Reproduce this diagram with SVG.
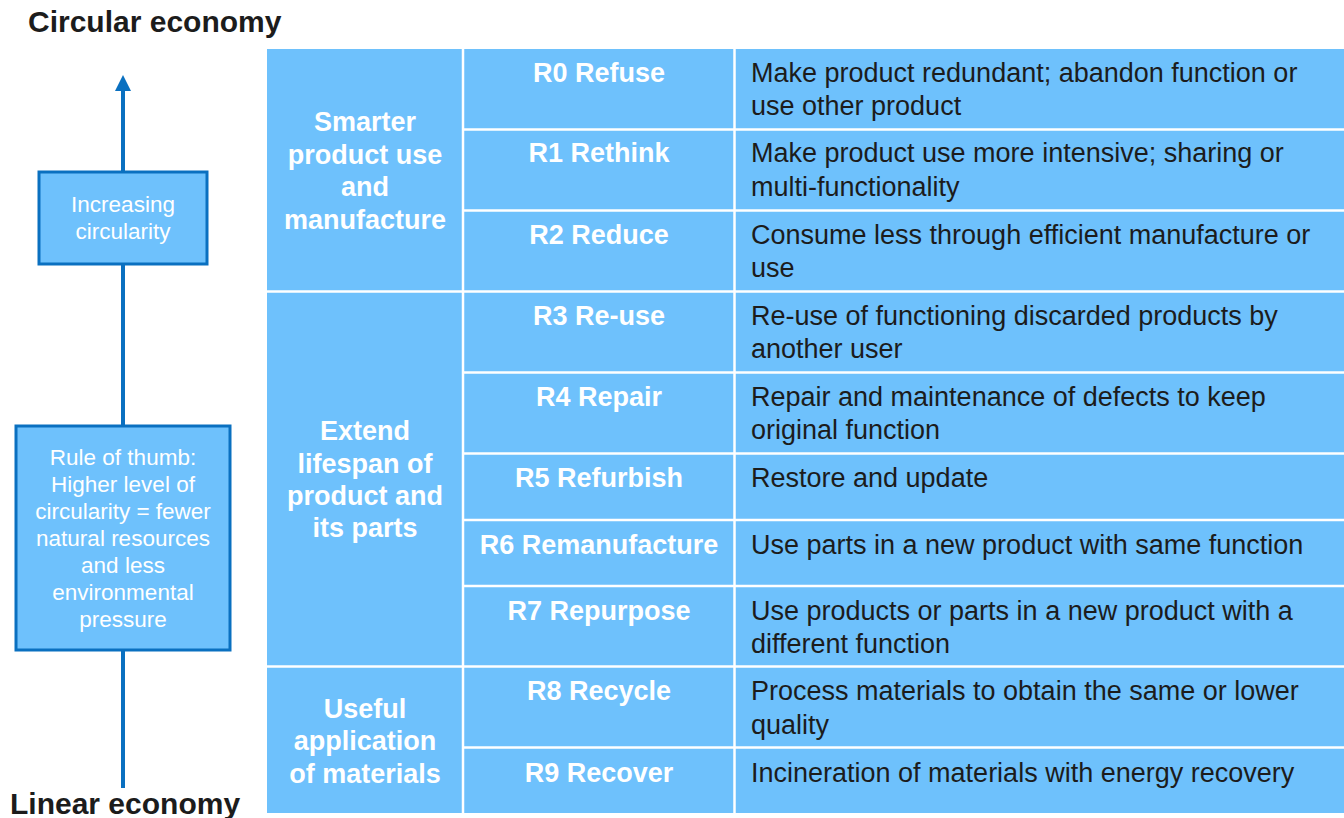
<svg xmlns="http://www.w3.org/2000/svg" width="1344" height="818" viewBox="0 0 1344 818">
<defs>
<style>
.title{font-family:"Liberation Sans",Arial,sans-serif;font-weight:bold;font-size:30px;fill:#1c1c1c}
.cell{fill:#6EC1FC}
.grid{stroke:#FFFFFF;stroke-width:2.5;fill:none}
.grp{font-family:"Liberation Sans",Arial,sans-serif;font-weight:bold;font-size:27px;fill:#FFFFFF;text-anchor:middle}
.rl{font-family:"Liberation Sans",Arial,sans-serif;font-weight:bold;font-size:27px;fill:#FFFFFF;text-anchor:middle}
.desc{font-family:"Liberation Sans",Arial,sans-serif;font-size:27px;fill:#1c1c1c}
.box{fill:#6EC1FC;stroke:#0A70C0;stroke-width:3}
.boxt{font-family:"Liberation Sans",Arial,sans-serif;font-size:22.5px;fill:#FFFFFF;text-anchor:middle}
.axis{stroke:#0A70C0;stroke-width:4;fill:none}
</style>
<marker id="ah" markerWidth="4" markerHeight="4" refX="2" refY="2" orient="auto" markerUnits="strokeWidth" viewBox="0 0 4 4">
<path d="M0,0 L4,2 L0,4 Z" fill="#0A70C0"/>
</marker>
</defs>
<rect width="1344" height="818" fill="#FFFFFF"/>

<text class="title" x="28" y="32">Circular economy</text>
<text class="title" x="10" y="814">Linear economy</text>

<g id="connectors">
<line class="axis" x1="123" y1="788" x2="123" y2="83" marker-end="url(#ah)"/>
</g>

<g id="node-increasing">
<rect class="box" x="39" y="172" width="168" height="92"/>
<text class="boxt" x="123" y="212">Increasing</text>
<text class="boxt" x="123" y="239">circularity</text>
</g>

<g id="node-rule">
<rect class="box" x="16" y="426" width="214" height="224"/>
<text class="boxt" x="123" y="465">Rule of thumb:</text>
<text class="boxt" x="123" y="492">Higher level of</text>
<text class="boxt" x="123" y="519">circularity = fewer</text>
<text class="boxt" x="123" y="546">natural resources</text>
<text class="boxt" x="123" y="573">and less</text>
<text class="boxt" x="123" y="600">environmental</text>
<text class="boxt" x="123" y="627">pressure</text>
</g>

<g id="table">
<rect class="cell" x="267" y="49" width="1090" height="764"/>
<g class="grid">
<line x1="463" y1="49" x2="463" y2="813"/>
<line x1="734.5" y1="49" x2="734.5" y2="813"/>
<line x1="267" y1="291.5" x2="1344" y2="291.5"/>
<line x1="267" y1="666.5" x2="1344" y2="666.5"/>
<line x1="463" y1="129.5" x2="1344" y2="129.5"/>
<line x1="463" y1="210.5" x2="1344" y2="210.5"/>
<line x1="463" y1="372.5" x2="1344" y2="372.5"/>
<line x1="463" y1="453.5" x2="1344" y2="453.5"/>
<line x1="463" y1="520" x2="1344" y2="520"/>
<line x1="463" y1="586" x2="1344" y2="586"/>
<line x1="463" y1="747.5" x2="1344" y2="747.5"/>
</g>
</g>

<g id="group-smarter">
<text class="grp" x="365" y="131">Smarter</text>
<text class="grp" x="365" y="164">product use</text>
<text class="grp" x="365" y="196">and</text>
<text class="grp" x="365" y="228.5">manufacture</text>
</g>
<g id="group-extend">
<text class="grp" x="365" y="440">Extend</text>
<text class="grp" x="365" y="472.5">lifespan of</text>
<text class="grp" x="365" y="505">product and</text>
<text class="grp" x="365" y="537">its parts</text>
</g>
<g id="group-useful">
<text class="grp" x="365" y="717.5">Useful</text>
<text class="grp" x="365" y="750">application</text>
<text class="grp" x="365" y="782.5">of materials</text>
</g>

<g id="row-r0">
<text class="rl" x="599" y="82">R0 Refuse</text>
<text class="desc" x="751" y="82">Make product redundant; abandon function or</text>
<text class="desc" x="751" y="115">use other product</text>
</g>
<g id="row-r1">
<text class="rl" x="599" y="162">R1 Rethink</text>
<text class="desc" x="751" y="162">Make product use more intensive; sharing or</text>
<text class="desc" x="751" y="196">multi-functionality</text>
</g>
<g id="row-r2">
<text class="rl" x="599" y="243.5">R2 Reduce</text>
<text class="desc" x="751" y="243.5">Consume less through efficient manufacture or</text>
<text class="desc" x="751" y="277">use</text>
</g>
<g id="row-r3">
<text class="rl" x="599" y="324.5">R3 Re-use</text>
<text class="desc" x="751" y="324.5">Re-use of functioning discarded products by</text>
<text class="desc" x="751" y="358">another user</text>
</g>
<g id="row-r4">
<text class="rl" x="599" y="405.5">R4 Repair</text>
<text class="desc" x="751" y="405.5">Repair and maintenance of defects to keep</text>
<text class="desc" x="751" y="439">original function</text>
</g>
<g id="row-r5">
<text class="rl" x="599" y="486.5">R5 Refurbish</text>
<text class="desc" x="751" y="486.5">Restore and update</text>
</g>
<g id="row-r6">
<text class="rl" x="599" y="553.5">R6 Remanufacture</text>
<text class="desc" x="751" y="553.5">Use parts in a new product with same function</text>
</g>
<g id="row-r7">
<text class="rl" x="599" y="619.5">R7 Repurpose</text>
<text class="desc" x="751" y="619.5">Use products or parts in a new product with a</text>
<text class="desc" x="751" y="653">different function</text>
</g>
<g id="row-r8">
<text class="rl" x="599" y="700">R8 Recycle</text>
<text class="desc" x="751" y="700">Process materials to obtain the same or lower</text>
<text class="desc" x="751" y="733.5">quality</text>
</g>
<g id="row-r9">
<text class="rl" x="599" y="781.5">R9 Recover</text>
<text class="desc" x="751" y="781.5">Incineration of materials with energy recovery</text>
</g>
</svg>
